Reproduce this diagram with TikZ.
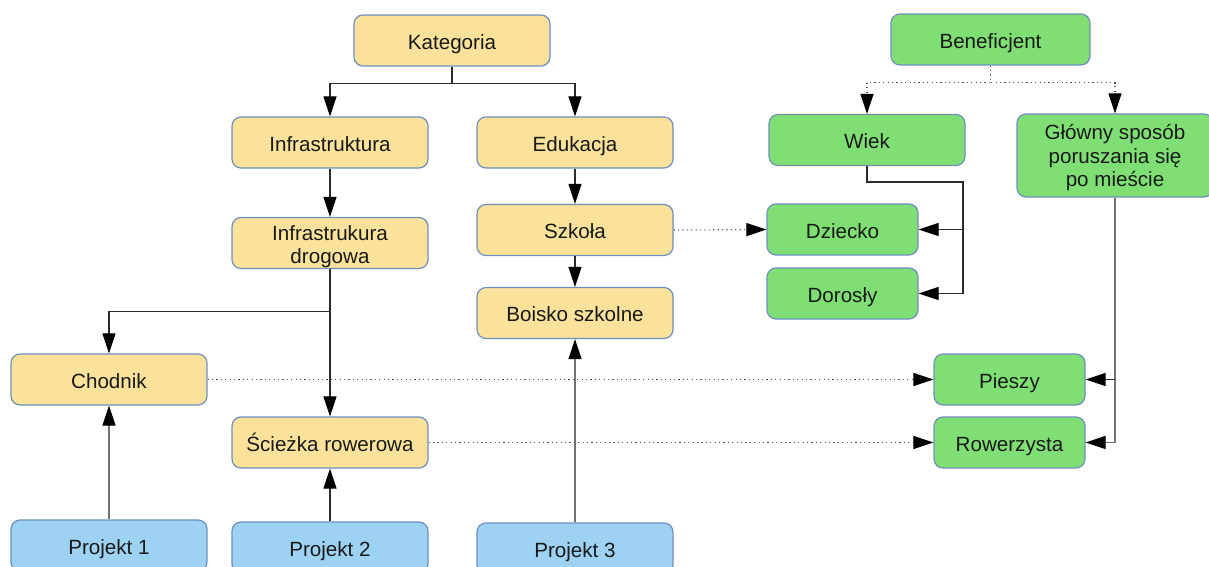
\documentclass[tikz,border=0pt]{standalone}
\usepackage{fontspec}
\setmainfont{Liberation Sans}
\usetikzlibrary{arrows.meta}
\definecolor{catfill}{HTML}{FAE29B}
\definecolor{benfill}{HTML}{80DF74}
\definecolor{projfill}{HTML}{9DD2F3}
\definecolor{boxline}{HTML}{6F8FBF}
\definecolor{linkcol}{HTML}{2B2B2B}
\definecolor{dotcol}{HTML}{555555}
\tikzset{
  box/.style={draw=boxline, line width=0.6pt, rounded corners=4.5pt, align=center,
    inner sep=0pt, font=\fontsize{10.3}{11.7}\selectfont, text=black!90,
    text height=9.6pt, text depth=0.8pt},
  multiline/.style={text height={}, text depth={}},
  cat/.style={box, fill=catfill, minimum width=98pt, minimum height=25.5pt},
  ben/.style={box, fill=benfill, minimum width=98pt, minimum height=25.5pt},
  bensmall/.style={box, fill=benfill, minimum width=75.5pt, minimum height=25.5pt},
  proj/.style={box, fill=projfill, minimum width=98pt, minimum height=25.5pt},
  tip/.style={-{Triangle[length=10pt,width=6.5pt,color=black]}},
  conn/.style={draw=linkcol, line width=0.55pt, tip},
  graylink/.style={conn, draw=black!55},
  dotlink/.style={draw=dotcol, line width=0.55pt, dash pattern=on 0.6pt off 1.6pt, tip}
}
\begin{document}
\begin{tikzpicture}[x=0.5pt, y=-0.5pt]
\useasboundingbox (0,0) rectangle (1209,567);
\clip (0,0) rectangle (1209,567);

% category tree
\node[cat] (kat)   at (452,40.5)  {Kategoria};
\node[cat] (infra) at (330,142.5) {Infrastruktura};
\node[cat] (edu)   at (575,142.5) {Edukacja};
\node[cat, multiline] (drog) at (330,243) {\rule{0pt}{11pt}Infrastrukura\\drogowa};
\node[cat] (szk)   at (575,230)   {Szkoła};
\node[cat] (bois)  at (575,313)   {Boisko szkolne};
\node[cat] (chod)  at (109,379.5) {Chodnik};
\node[cat] (sciez) at (330,442.5) {Ścieżka rowerowa};

% projects
\node[proj] (p1) at (109,545.5) {Projekt 1};
\node[proj] (p2) at (330,547.5) {Projekt 2};
\node[proj] (p3) at (575,548.5) {Projekt 3};

% beneficiary tree
\node[ben, minimum width=99.5pt] (ben) at (990.5,39.5) {Beneficjent};
\node[ben] (wiek) at (867,140) {Wiek};
\node[ben, multiline, minimum height=41.5pt] (glow) at (1115,155.5)
  {\rule{0pt}{9.8pt}Główny sposób\\poruszania się\\po mieście};
\node[bensmall] (dz)  at (842.5,229.5) {Dziecko};
\node[bensmall] (dor) at (842.5,293.5) {Dorosły};
\node[bensmall] (pie) at (1009.5,379.5) {Pieszy};
\node[bensmall] (row) at (1009.5,442.5) {Rowerzysta};

% category links
\draw[conn] (kat.south) -- ++(0,17) -| (infra.north);
\draw[conn] (kat.south) -- ++(0,17) -| (edu.north);
\draw[conn] (infra.south) -- (drog.north);
\draw[conn] (edu.south) -- (szk.north);
\draw[conn] (szk.south) -- (bois.north);
\draw[conn] (drog.south) -- ++(0,42) -| (chod.north);
\draw[conn] (drog.south) -- (sciez.north);

% project links
\draw[graylink] (p1.north) -- (chod.south);
\draw[conn] (p2.north) -- (sciez.south);
\draw[graylink] (p3.north) -- (bois.south);

% beneficiary links
\draw[dotlink] (ben.south) -- ++(0,17) -| (wiek.north);
\draw[dotlink] (ben.south) -- ++(0,17) -| (glow.north);
\coordinate (wj) at (963,182);
\draw[conn] (wiek.south) |- (wj) |- (dor.east);
\draw[conn] (wj |- dz.east) -- (dz.east);
\draw[graylink] (glow.south) |- (row.east);
\draw[conn] (glow.south |- pie.east) -- (pie.east);

% cross links
\draw[dotlink] (szk.east) -- (dz.west);
\draw[dotlink] (chod.east) -- (pie.west);
\draw[dotlink] (sciez.east) -- (row.west);
\end{tikzpicture}
\end{document}
